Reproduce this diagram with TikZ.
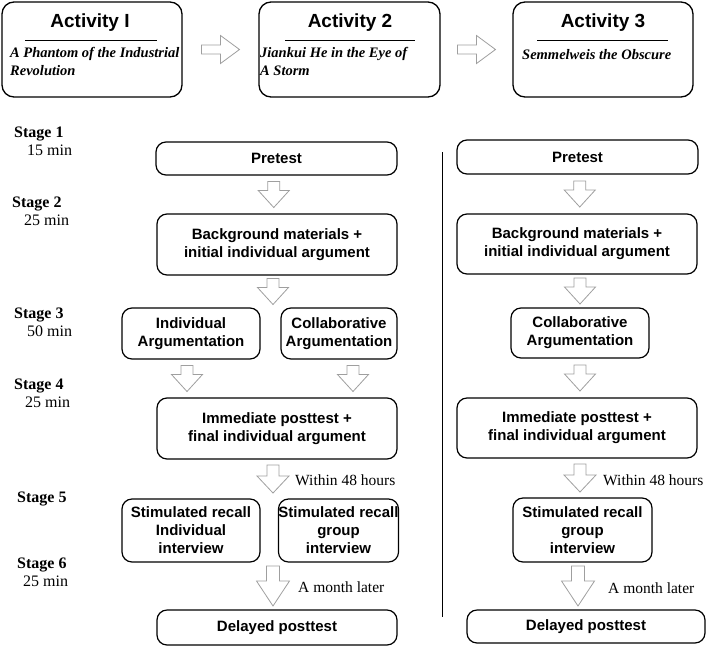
\documentclass[tikz,border=0pt]{standalone}
\usepackage{fontspec}
\setmainfont{Liberation Serif}
\setsansfont{Liberation Sans}
\usetikzlibrary{calc}
\tikzset{
  box/.style={draw=black, line width=1.2pt, rounded corners=10pt, align=center, inner sep=0pt,
    font=\sffamily\bfseries\fontsize{15}{18}\selectfont},
  actbox/.style={draw=black, line width=1.3pt, rounded corners=12pt, inner sep=0pt},
  acttitle/.style={font=\sffamily\bfseries\fontsize{19}{20}\selectfont, inner sep=0pt},
  actsub/.style={font=\rmfamily\bfseries\itshape\fontsize{14.5}{18}\selectfont, align=left, inner sep=0pt, anchor=north west},
  stagelab/.style={font=\rmfamily\fontsize{16}{18}\selectfont, align=left, inner sep=0pt, anchor=north west},
  note/.style={font=\rmfamily\fontsize{15.5}{18}\selectfont, inner sep=0pt, anchor=west},
  arrowline/.style={draw=gray!75, line width=0.8pt, fill=white, line join=miter},
  rulel/.style={draw=black, line width=1pt},
}
% center, length, head length, head width, shaft width
\newcommand\DownBlk[5]{%
  \draw[arrowline, shift={(#1)}] (-#5/2,-#2/2) -- (#5/2,-#2/2) -- (#5/2,#2/2-#3) -- (#4/2,#2/2-#3)
    -- (0,#2/2) -- (-#4/2,#2/2-#3) -- (-#5/2,#2/2-#3) -- cycle;}
\newcommand\RightBlk[5]{%
  \draw[arrowline, shift={(#1)}] (-#2/2,-#5/2) -- (-#2/2,#5/2) -- (#2/2-#3,#5/2) -- (#2/2-#3,#4/2)
    -- (#2/2,0) -- (#2/2-#3,-#4/2) -- (#2/2-#3,-#5/2) -- cycle;}
\begin{document}
\begin{tikzpicture}[x=1pt,y=-1pt]
\useasboundingbox (0,0) rectangle (712,646);

% ---- activities ----
\node[actbox, minimum width=180pt, minimum height=95pt] (A1) at (92,49.5) {};
\node[actbox, minimum width=181pt, minimum height=95pt] (A2) at (349.5,49.5) {};
\node[actbox, minimum width=180pt, minimum height=95pt] (A3) at (603,49.5) {};
\node[acttitle] (T1) at (90,23) {Activity I};
\node[acttitle] (T2) at (350,23) {Activity 2};
\node[acttitle] (T3) at (603,23) {Activity 3};
\draw[rulel] ($(T1)+(-65,17)$) -- ($(T1)+(67,17)$);
\draw[rulel] ($(T2)+(-65,17)$) -- ($(T2)+(65,17)$);
\draw[rulel] ($(T3)+(-66,17)$) -- ($(T3)+(65,17)$);
\node[actsub] (S1) at (10,47) {A Phantom of the Industrial\\Revolution};
\node[actsub] (S2) at (260,47) {Jiankui He in the Eye of\\A Storm};
\node[actsub] (S3) at (522,49) {Semmelweis the Obscure};
\coordinate (r1) at ($(A1.east)!0.5!(A2.west)$);
\coordinate (r2) at ($(A2.east)!0.5!(A3.west)$);
\RightBlk{r1}{38}{19}{28}{9}
\RightBlk{r2}{38}{19}{28}{9}

% ---- stage labels ----
\node[stagelab] (st1) at (14,127) {\textbf{Stage 1}\\\hspace*{13pt}15 min};
\node[stagelab] (st2) at (12,197) {\textbf{Stage 2}\\\hspace*{12pt}25 min};
\node[stagelab] (st3) at (14,308) {\textbf{Stage 3}\\\hspace*{13pt}50 min};
\node[stagelab] (st4) at (14,379) {\textbf{Stage 4}\\\hspace*{11pt}25 min};
\node[stagelab] (st5) at (17,492) {\textbf{Stage 5}};
\node[stagelab] (st6) at (17,558) {\textbf{Stage 6}\\\hspace*{6pt}25 min};

% ---- left column ----
\node[box, minimum width=241pt, minimum height=33pt] (pre) at (276.5,158.5) {Pretest};
\node[box, minimum width=240pt, minimum height=61pt] (bg) at (277,244.5) {Background materials +\\initial individual argument};
\node[box, minimum width=138pt, minimum height=51pt] (ind) at (191,333.5) {Individual\\Argumentation};
\node[box, minimum width=116pt, minimum height=51pt] (col) at (339,333.5) {Collaborative\\Argumentation};
\node[box, minimum width=240pt, minimum height=61pt] (imm) at (277,428.5) {Immediate posttest +\\final individual argument};
\node[box, minimum width=138pt, minimum height=63pt] (sri) at (191,530.5) {Stimulated recall\\Individual\\interview};
\node[box, minimum width=117pt, minimum height=63pt] (srg) at (338.5,530.5) {Stimulated recall\\group\\interview};
\node[box, minimum width=240pt, minimum height=35pt] (del) at (277,627.5) {Delayed posttest};

\coordinate (a1) at ($(pre.south)!0.5!(bg.north)+(-3,0)$);
\coordinate (a2) at ($(bg.south)!0.5!(ind.north -| bg.south)+(-4,0)$);
\coordinate (a3l) at ($(ind.south)!0.5!(imm.north -| ind.south)+(-4,0)$);
\coordinate (a3r) at ($(col.south)!0.5!(imm.north -| col.south)+(14,0)$);
\coordinate (a4) at ($(imm.south)!0.5!(sri.north -| imm.south)+(-4,0)$);
\coordinate (a5) at ($(sri.south -| imm.south)!0.5!(del.north)+(-4,0)$);
\DownBlk{a1}{26}{17}{31}{12}
\DownBlk{a2}{26}{17}{31}{12}
\DownBlk{a3l}{26}{17}{31}{12}
\DownBlk{a3r}{26}{17}{31}{12}
\DownBlk{a4}{28}{17}{32}{12}
\DownBlk{a5}{40}{25}{33}{13}
\node[note] (w1) at (295,480) {Within 48 hours};
\node[note] (m1) at (298,587) {A month later};

% ---- divider ----
\coordinate (d1) at (442,152);
\coordinate (d2) at (442,617);
\draw[line width=1pt] (d1) -- (d2);

% ---- right column ----
\node[box, minimum width=241pt, minimum height=34pt] (pre2) at (577.5,157) {Pretest};
\node[box, minimum width=240pt, minimum height=60pt] (bg2) at (577,244) {Background materials +\\initial individual argument};
\node[box, minimum width=138pt, minimum height=50pt] (col2) at (580,333) {Collaborative\\Argumentation};
\node[box, minimum width=240pt, minimum height=60pt] (imm2) at (577,428) {Immediate posttest +\\final individual argument};
\node[box, minimum width=139pt, minimum height=64pt] (srg2) at (582.5,530) {Stimulated recall\\group\\interview};
\node[box, minimum width=238pt, minimum height=33pt] (del2) at (586,626.5) {Delayed posttest};

\coordinate (b1) at ($(pre2.south)!0.5!(bg2.north)+(2.5,0)$);
\coordinate (b2) at ($(bg2.south)!0.5!(col2.north -| bg2.south)+(3,0)$);
\coordinate (b3) at ($(col2.south)!0.5!(imm2.north -| col2.south)$);
\coordinate (b4) at ($(imm2.south)!0.5!(srg2.north -| imm2.south)+(3,0)$);
\coordinate (b5) at ($(srg2.south -| imm2.south)!0.5!(del2.north -| imm2.south)+(1,0)$);
\DownBlk{b1}{26}{17}{31}{12}
\DownBlk{b2}{26}{17}{31}{12}
\DownBlk{b3}{26}{17}{31}{12}
\DownBlk{b4}{28}{17}{32}{12}
\DownBlk{b5}{40}{25}{33}{13}
\node[note] (w2) at (603,480) {Within 48 hours};
\node[note] (m2) at (608,588) {A month later};
\end{tikzpicture}
\end{document}
